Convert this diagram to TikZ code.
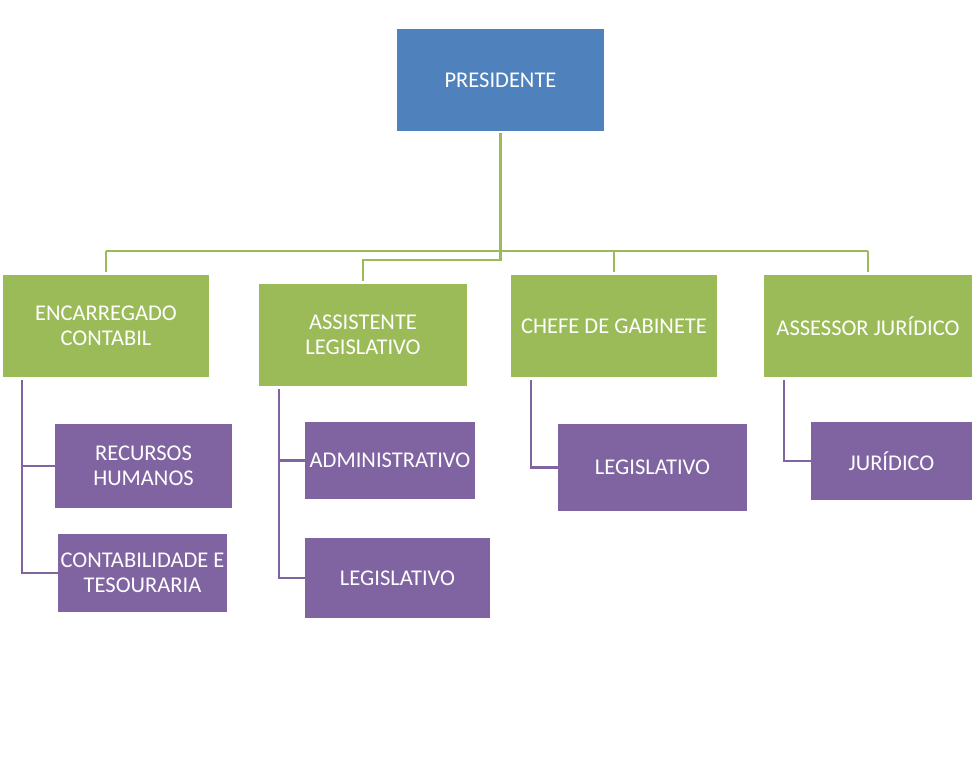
\documentclass[tikz,border=0pt]{standalone}
\usepackage{fontspec}
\setmainfont{Carlito}
\definecolor{offblue}{HTML}{4F81BD}
\definecolor{offgreen}{HTML}{9BBB59}
\definecolor{offpurple}{HTML}{8064A2}
\begin{document}
\begin{tikzpicture}[x=1pt,y=-1pt,
  box/.style={rectangle,inner sep=0pt,text=white,align=center,
    font=\fontsize{22.5}{25}\selectfont},
  bluebox/.style={box,fill=offblue},
  greenbox/.style={box,fill=offgreen},
  purplebox/.style={box,fill=offpurple},
  gline/.style={draw=offgreen,line width=2.4pt},
  pline/.style={draw=offpurple,line width=2.4pt}]
\useasboundingbox[fill=white] (0,0) rectangle (980,762);
% top level
\node[bluebox,minimum width=207pt,minimum height=102pt] (pres) at (500.5,80) {PRESIDENTE};
% second level
\node[greenbox,minimum width=206pt,minimum height=102pt] (enc) at (106,326) {ENCARREGADO\\CONTABIL};
\node[greenbox,minimum width=208pt,minimum height=102pt] (asi) at (363,335) {ASSISTENTE\\LEGISLATIVO};
\node[greenbox,minimum width=206pt,minimum height=102pt] (che) at (614,326) {CHEFE DE GABINETE};
\node[greenbox,minimum width=208pt,minimum height=102pt] (asr) at (868,326) {ASSESSOR JURÍDICO};
% third level
\node[purplebox,minimum width=177pt,minimum height=84pt] (rh) at (143.5,466) {RECURSOS\\HUMANOS};
\node[purplebox,minimum width=169pt,minimum height=78pt] (ct) at (142.5,573) {CONTABILIDADE E\\TESOURARIA};
\node[purplebox,minimum width=170pt,minimum height=77pt] (adm) at (390,460.5) {ADMINISTRATIVO};
\node[purplebox,minimum width=185pt,minimum height=80pt] (leg1) at (397.5,578) {LEGISLATIVO};
\node[purplebox,minimum width=189pt,minimum height=87pt] (leg2) at (652.5,467.5) {LEGISLATIVO};
\node[purplebox,minimum width=161pt,minimum height=78pt] (jur) at (891.5,461) {JURÍDICO};
% bus coordinates
\coordinate (bus) at (500,251);
\coordinate (bus2) at (500,260);
% green connectors
\draw[gline,shorten <=2pt] (pres.south) -- (pres.south |- bus2) -- (bus2 -| asi.north) -- ([yshift=3pt]asi.north);
\draw[gline] (bus -| enc.north) -- (bus -| asr.north);
\draw[gline] (bus -| enc.north) -- ([yshift=3pt]enc.north);
\draw[gline] (bus -| che.north) -- ([yshift=3pt]che.north);
\draw[gline] (bus -| asr.north) -- ([yshift=3pt]asr.north);
% purple connectors
\draw[pline] ([xshift=19pt,yshift=-3pt]enc.south west) -- ([xshift=19pt]enc.south west |- rh.west) -- (rh.west);
\draw[pline] ([xshift=19pt,yshift=-3pt]enc.south west) -- ([xshift=19pt]enc.south west |- ct.west) -- (ct.west);
\draw[pline] ([xshift=20pt,yshift=-3pt]asi.south west) -- ([xshift=20pt]asi.south west |- adm.west) -- (adm.west);
\draw[pline] ([xshift=20pt,yshift=-3pt]asi.south west) -- ([xshift=20pt]asi.south west |- leg1.west) -- (leg1.west);
\draw[pline] ([xshift=20pt,yshift=-3pt]che.south west) -- ([xshift=20pt]che.south west |- leg2.west) -- (leg2.west);
\draw[pline] ([xshift=20pt,yshift=-3pt]asr.south west) -- ([xshift=20pt]asr.south west |- jur.west) -- (jur.west);
\end{tikzpicture}
\end{document}
